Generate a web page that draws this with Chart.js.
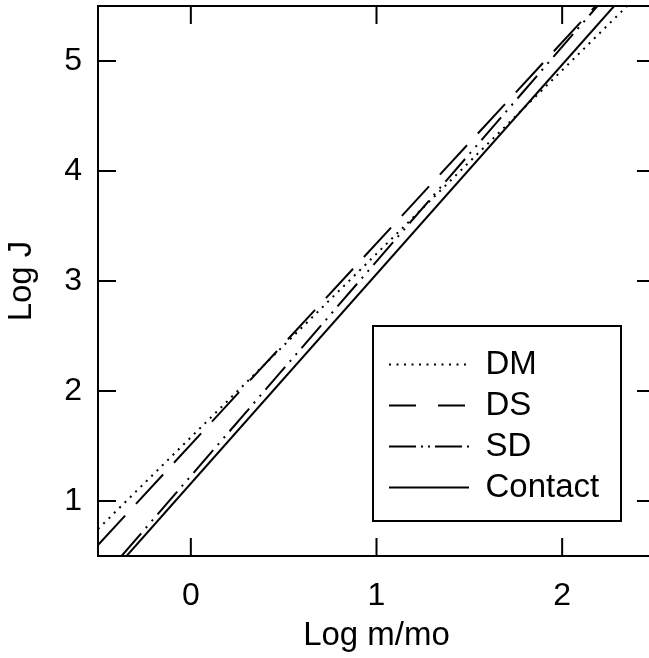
<!DOCTYPE html>
<html lang="en">
<head>
<meta charset="UTF-8">
<title>Log J vs Log m/mo</title>
<style>
  html, body { margin: 0; padding: 0; background: #fff; overflow: hidden; }
  #wrap { width: 670px; height: 658px; }
</style>
</head>
<body>
<div id="wrap"><canvas id="myChart" width="670" height="658"></canvas></div>
<script src="https://cdn.jsdelivr.net/npm/chart.js"></script>
<script>
// end points of each line where it leaves the plot frame
const dmX = [-0.5, 2.35];
const dmY = [0.745, 5.5];
const dsX = [-0.5, 2.18];
const dsY = [0.6, 5.5];
const sdX = [-0.373, 2.19];
const sdY = [0.5, 5.5];
const contactX = [-0.346, 2.28];
const contactY = [0.5, 5.5];

const xTicks = [0, 1, 2];
const yTicks = [1, 2, 3, 4, 5];

const FONT = '"Liberation Sans", Arial, Helvetica, sans-serif';
const TICK = 18;
const legendBox = { left: 373, top: 326, width: 248, height: 195 };
// the legend samples use a slightly shorter pattern than the curves
const legendDash = [[2, 5.5], [27, 22], [27, 5, 2, 5, 2, 5], []];

function pts(xs, ys) {
    return xs.map((x, i) => ({ x: x, y: ys[i] }));
}

const datasets = [
    { label: 'DM', data: pts(dmX, dmY), borderDash: [2, 5.5] },
    { label: 'DS', data: pts(dsX, dsY), borderDash: [40, 16] },
    { label: 'SD', data: pts(sdX, sdY), borderDash: [30, 7, 2, 7, 2, 7] },
    { label: 'Contact', data: pts(contactX, contactY), borderDash: [] }
].map(d => Object.assign(d, {
    borderColor: '#000', backgroundColor: '#000', borderWidth: 2,
    pointRadius: 0, fill: false, tension: 0
}));

// frame, inward ticks on all four sides, and the box round the legend
const framePlugin = {
    id: 'frame',
    afterLayout(chart) {
        const lg = chart.legend;
        lg.left = legendBox.left + 8;
        lg.top = legendBox.top + 14;
        lg.width = legendBox.width - 8;
        lg.height = legendBox.height - 14;
        lg.right = lg.left + lg.width;
        lg.bottom = lg.top + lg.height;
    },
    afterDraw(chart) {
        const { ctx, chartArea: a, scales: { x, y } } = chart;
        ctx.save();
        ctx.strokeStyle = '#000';
        ctx.lineWidth = 2;
        ctx.setLineDash([]);
        ctx.strokeRect(a.left, a.top, a.right - a.left, a.bottom - a.top);
        ctx.beginPath();
        xTicks.forEach(v => {
            const px = x.getPixelForValue(v);
            ctx.moveTo(px, a.bottom); ctx.lineTo(px, a.bottom - TICK);
            ctx.moveTo(px, a.top); ctx.lineTo(px, a.top + TICK);
        });
        yTicks.forEach(v => {
            const py = y.getPixelForValue(v);
            ctx.moveTo(a.left, py); ctx.lineTo(a.left + TICK, py);
            ctx.moveTo(a.right, py); ctx.lineTo(a.right - TICK, py);
        });
        ctx.stroke();
        ctx.strokeRect(legendBox.left, legendBox.top, legendBox.width, legendBox.height);
        ctx.restore();
    }
};

const ctx = document.getElementById('myChart').getContext('2d');
new Chart(ctx, {
    type: 'line',
    data: { datasets: datasets },
    plugins: [framePlugin],
    options: {
        responsive: false,
        animation: false,
        devicePixelRatio: 1,
        layout: { padding: { top: 6, right: 15, bottom: 0, left: 0 } },
        plugins: {
            tooltip: { enabled: false },
            legend: {
                position: 'chartArea',
                align: 'start',
                labels: {
                    color: '#000',
                    font: { family: FONT, size: 33 },
                    usePointStyle: true,
                    pointStyle: 'line',
                    pointStyleWidth: 80,
                    padding: 8,
                    generateLabels(chart) {
                        const items = Chart.defaults.plugins.legend.labels.generateLabels(chart);
                        items.forEach((it, i) => {
                            it.lineDash = legendDash[i];
                            it.lineWidth = 2;
                            it.strokeStyle = '#000';
                        });
                        return items;
                    }
                }
            }
        },
        scales: {
            x: {
                type: 'linear',
                min: -0.5,
                max: 2.5,
                afterBuildTicks: s => { s.ticks = xTicks.map(v => ({ value: v })); },
                afterFit: s => { s.height = 102; s.paddingLeft = 0; s.paddingRight = 0; },
                grid: { display: false, drawTicks: false },
                border: { display: false },
                ticks: { color: '#000', font: { family: FONT, size: 32 }, padding: 21, autoSkip: false, maxRotation: 0 },
                title: { display: true, text: 'Log m/mo', color: '#000', font: { family: FONT, size: 33 }, padding: { top: 0, bottom: 2 } }
            },
            y: {
                type: 'linear',
                min: 0.5,
                max: 5.5,
                afterBuildTicks: s => { s.ticks = yTicks.map(v => ({ value: v })); },
                afterFit: s => { s.width = 98; s.paddingTop = 0; s.paddingBottom = 0; },
                grid: { display: false, drawTicks: false },
                border: { display: false },
                ticks: { color: '#000', font: { family: FONT, size: 32 }, padding: 16, autoSkip: false },
                title: { display: true, text: 'Log J', color: '#000', font: { family: FONT, size: 33 }, padding: { top: 2, bottom: 0 } }
            }
        }
    }
});
</script>
</body>
</html>
